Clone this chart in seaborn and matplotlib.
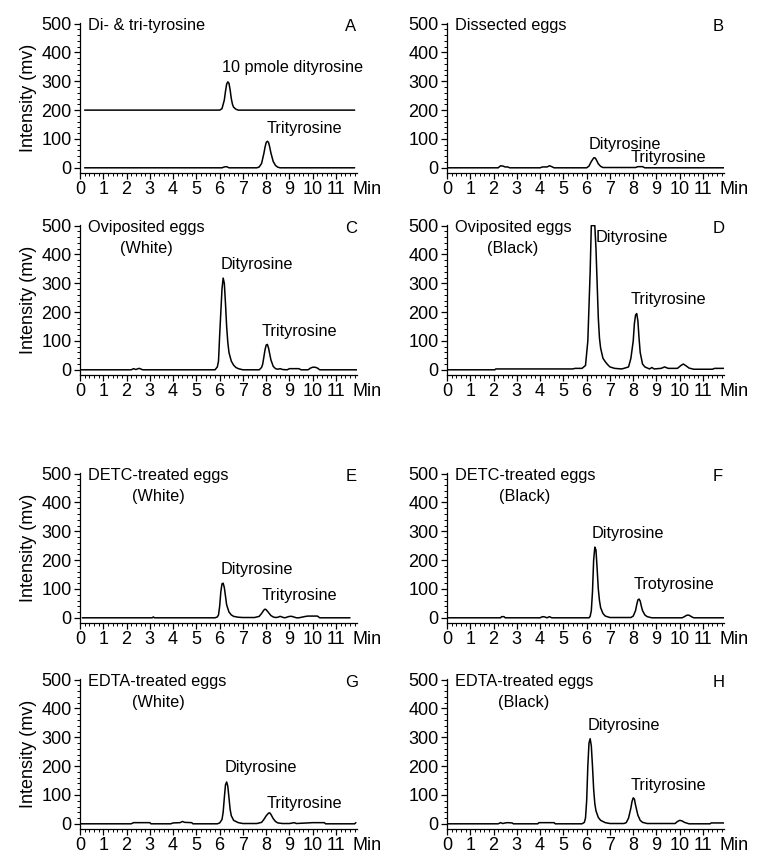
import matplotlib
matplotlib.use("Agg")
import matplotlib.pyplot as plt
import seaborn as sns
import pandas as pd
from matplotlib.ticker import MultipleLocator

sns.set_style("ticks")
plt.rcParams['font.family'] = ['Liberation Sans', 'DejaVu Sans']
for key in ["text.color", "axes.labelcolor", "xtick.color", "ytick.color", "axes.edgecolor"]:
    plt.rcParams[key] = "black"

# ---------------- data ----------------
A_top_t = [0.2, 6.0, 6.1, 6.2, 6.25, 6.3, 6.35, 6.4, 6.45, 6.5, 6.55, 6.6, 6.7, 6.8, 11.8]
A_top_v = [200, 200, 205, 235, 265, 290, 298, 293, 270, 240, 220, 210, 203, 200, 200]
A_bot_t = [0.2, 6.1, 6.2, 6.3, 6.4, 7.6, 7.7, 7.8, 7.9, 7.95, 8.0, 8.05, 8.1, 8.15, 8.2, 8.3,
           8.4, 8.5, 8.6, 11.8]
A_bot_v = [0, 0, 3, 4, 0, 0, 3, 15, 50, 72, 88, 92, 88, 72, 52, 22, 8, 2, 0, 0]

B_t = [0.05, 2.2, 2.3, 2.4, 2.5, 2.6, 2.7, 4.0, 4.1, 4.3, 4.4, 4.5, 4.6, 6.0, 6.1, 6.2, 6.3, 6.35,
       6.4, 6.5, 6.6, 6.7, 8.1, 8.2, 8.4, 8.5, 11.9]
B_v = [0, 0, 7, 6, 3, 3, 0, 0, 3, 3, 7, 4, 0, 0, 6, 22, 34, 35, 30, 14, 5, 1, 1, 4, 4, 0, 0]

C_t = [0.05, 2.2, 2.3, 2.4, 2.5, 2.55, 2.6, 2.7, 5.8, 5.9, 5.95, 6.0, 6.05, 6.1, 6.15, 6.2, 6.25,
       6.3, 6.35, 6.4, 6.5, 6.6, 6.7, 6.8, 7.0, 7.7, 7.8, 7.85, 7.9, 7.95, 8.0, 8.05, 8.1, 8.15,
       8.2, 8.3, 8.4, 8.5, 8.6, 8.7, 8.9, 9.0, 9.4, 9.5, 9.8, 9.9, 10.0, 10.1, 10.2, 10.3, 11.9]
C_v = [0, 0, 4, 1, 4, 5, 3, 0, 0, 10, 30, 120, 200, 280, 318, 300, 230, 150, 95, 60, 30, 16, 8,
       4, 0, 0, 8, 20, 45, 70, 86, 88, 75, 55, 35, 12, 4, 2, 4, 1, 0, 4, 4, 0, 0, 6, 9, 9, 6, 0, 0]

D_t = [0.0, 2.05, 2.1, 5.4, 5.5, 5.8, 5.95, 6.05, 6.1, 6.15, 6.2, 6.35, 6.4, 6.45, 6.5, 6.55, 6.6,
       6.7, 6.8, 6.9, 7.0, 7.2, 7.5, 7.6, 7.8, 7.9, 8.0, 8.05, 8.1, 8.15, 8.2, 8.25, 8.3, 8.4, 8.5,
       8.7, 8.8, 8.9, 9.2, 9.35, 9.5, 9.9, 10.05, 10.15, 10.25, 10.4, 10.6, 11.4, 11.5, 11.9]
D_v = [0, 0, 3, 3, 5, 5, 15, 100, 220, 340, 500, 500, 420, 300, 180, 110, 75, 40, 28, 18, 10, 5,
       3, 5, 10, 40, 100, 160, 190, 195, 170, 110, 60, 20, 10, 3, 8, 3, 5, 10, 5, 5, 15, 20, 15,
       6, 2, 2, 5, 5]

E_t = [0.1, 3.1, 3.15, 3.2, 5.8, 5.9, 5.95, 6.0, 6.05, 6.1, 6.15, 6.2, 6.25, 6.3, 6.4, 6.5, 6.6,
       6.8, 7.0, 7.5, 7.7, 7.8, 7.9, 7.95, 8.0, 8.1, 8.2, 8.3, 8.4, 8.5, 8.6, 8.7, 8.8, 9.0, 9.1,
       9.3, 9.4, 9.7, 9.8, 10.2, 10.3, 11.6]
E_v = [0, 0, 3, 0, 0, 3, 10, 40, 90, 118, 120, 105, 75, 45, 20, 10, 5, 2, 1, 1, 5, 15, 27, 30, 28,
       18, 8, 3, 1, 2, 5, 2, 0, 5, 5, 0, 0, 5, 6, 6, 0, 0]

F_t = [0.05, 2.3, 2.35, 2.45, 2.5, 4.0, 4.1, 4.2, 4.3, 4.4, 4.5, 6.1, 6.15, 6.2, 6.25, 6.3, 6.35,
       6.4, 6.45, 6.5, 6.55, 6.6, 6.7, 6.8, 7.0, 7.9, 8.0, 8.1, 8.15, 8.2, 8.25, 8.3, 8.35, 8.4,
       8.5, 8.6, 8.8, 10.1, 10.2, 10.3, 10.4, 10.5, 10.6, 11.9]
F_v = [0, 0, 4, 4, 0, 0, 4, 3, 0, 4, 0, 0, 5, 25, 90, 200, 245, 235, 170, 100, 60, 35, 15, 6, 1,
       1, 6, 25, 45, 62, 65, 58, 40, 25, 10, 4, 0, 0, 4, 9, 9, 4, 0, 0]

G_t = [0.05, 2.2, 2.3, 3.0, 3.05, 3.9, 4.0, 4.3, 4.4, 4.5, 4.8, 4.85, 5.9, 6.0, 6.1, 6.15, 6.2,
       6.25, 6.3, 6.35, 6.4, 6.45, 6.5, 6.6, 6.8, 7.0, 7.6, 7.8, 7.9, 8.0, 8.1, 8.15, 8.2, 8.3,
       8.4, 8.5, 8.7, 9.0, 9.2, 9.3, 10.0, 10.5, 10.55, 11.8, 11.85]
G_v = [0, 0, 4, 4, 0, 0, 3, 4, 8, 5, 4, 0, 0, 3, 15, 40, 90, 135, 145, 130, 90, 50, 28, 12, 4, 1,
       1, 5, 15, 28, 37, 38, 33, 18, 8, 3, 1, 1, 4, 1, 4, 4, 0, 0, 4]

H_t = [0.05, 2.2, 2.3, 2.4, 2.5, 2.6, 2.8, 2.85, 3.9, 3.95, 4.6, 4.65, 5.8, 5.9, 5.95, 6.0, 6.05,
       6.1, 6.15, 6.2, 6.25, 6.3, 6.35, 6.4, 6.5, 6.6, 6.8, 7.0, 7.6, 7.7, 7.8, 7.9, 7.95, 8.0,
       8.05, 8.1, 8.2, 8.3, 8.4, 8.6, 9.8, 9.9, 10.0, 10.1, 10.2, 10.4, 11.3, 11.35, 11.9]
H_v = [0, 0, 4, 1, 3, 4, 3, 0, 0, 4, 4, 0, 0, 5, 20, 80, 200, 280, 295, 270, 200, 120, 70, 45, 22,
       12, 4, 1, 1, 4, 20, 55, 78, 90, 86, 65, 30, 12, 5, 1, 1, 8, 12, 10, 5, 0, 0, 3, 3]

panel_letters = ["A", "B", "C", "D", "E", "F", "G", "H"]
titles = ["Di- & tri-tyrosine", "Dissected eggs", "Oviposited eggs", "Oviposited eggs",
          "DETC-treated eggs", "DETC-treated eggs", "EDTA-treated eggs", "EDTA-treated eggs"]
subtitles = ["", "", "(White)", "(Black)", "(White)", "(Black)", "(White)", "(Black)"]
# peak labels: (text, x, y)
peak_labels = {
    "A": [("10 pmole dityrosine", 6.1, 348), ("Trityrosine", 8.0, 138)],
    "B": [("Dityrosine", 6.1, 80), ("Trityrosine", 7.9, 35)],
    "C": [("Dityrosine", 6.05, 366), ("Trityrosine", 7.8, 133)],
    "D": [("Dityrosine", 6.4, 458), ("Trityrosine", 7.9, 243)],
    "E": [("Dityrosine", 6.05, 167), ("Trityrosine", 7.8, 77)],
    "F": [("Dityrosine", 6.2, 293), ("Trotyrosine", 8.0, 114)],
    "G": [("Dityrosine", 6.2, 196), ("Trityrosine", 8.0, 71)],
    "H": [("Dityrosine", 6.05, 341), ("Trityrosine", 7.9, 132)],
}
subtitle_x = {"C": 2.85, "D": 2.8, "E": 3.35, "F": 3.35, "G": 3.35, "H": 3.3}

traces = {
    "A": [A_top_t, A_bot_t], "B": [B_t], "C": [C_t], "D": [D_t],
    "E": [E_t], "F": [F_t], "G": [G_t], "H": [H_t],
}
values = {
    "A": [A_top_v, A_bot_v], "B": [B_v], "C": [C_v], "D": [D_v],
    "E": [E_v], "F": [F_v], "G": [G_v], "H": [H_v],
}

rows = []
for p in panel_letters:
    for k, (tt, vv) in enumerate(zip(traces[p], values[p])):
        for a, b in zip(tt, vv):
            rows.append({"panel": p, "trace": k, "time": a, "value": b})
df = pd.DataFrame(rows)

# ---------------- layout ----------------
W, H = 758, 867
fig = plt.figure(figsize=(W / 100, H / 100), dpi=100)
lefts = [80 / W, 447 / W]
width = 277 / W
bottoms = [1 - 173 / H, 1 - 375 / H, 1 - 623 / H, 1 - 829 / H]
height = 150 / H

FS = 13
for i, p in enumerate(panel_letters):
    r, c = divmod(i, 2)
    ax = fig.add_axes([lefts[c], bottoms[r], width, height])
    sub = df[df["panel"] == p]
    sns.lineplot(data=sub, x="time", y="value", units="trace", estimator=None, sort=False,
                 color="black", lw=1.1, ax=ax, legend=False)
    ax.set_xlim(0, 11.9)
    ax.set_ylim(-18, 502)
    ax.set_xticks(range(0, 12))
    ax.set_yticks([0, 100, 200, 300, 400, 500])
    ax.xaxis.set_minor_locator(MultipleLocator(0.2))
    ax.yaxis.set_minor_locator(MultipleLocator(20))
    ax.tick_params(which="major", direction="out", length=4, width=0.9, labelsize=FS, pad=2)
    ax.tick_params(which="minor", direction="out", length=2, width=0.7)
    sns.despine(ax=ax)
    for s in ["left", "bottom"]:
        ax.spines[s].set_linewidth(0.9)
    ax.set_xlabel("")
    if c == 0:
        ax.set_ylabel("Intensity (mv)", fontsize=FS, labelpad=3)
    else:
        ax.set_ylabel("")
    ax.text(0.35, 493, titles[i], fontsize=11.7, ha="left", va="center")
    if subtitles[i]:
        ax.text(subtitle_x[p], 420, subtitles[i], fontsize=11.7, ha="center", va="center")
    ax.text(11.4, 490, p, fontsize=12, ha="left", va="center")
    for txt, x, y in peak_labels[p]:
        ax.text(x, y, txt, fontsize=11.7, ha="left", va="center")
    ax.annotate("Min", xy=(11.72, 0), xycoords=("data", "axes fraction"),
                xytext=(0, -6), textcoords="offset points", ha="left", va="top",
                fontsize=FS, annotation_clip=False)

fig.savefig("out.png", dpi=100)
